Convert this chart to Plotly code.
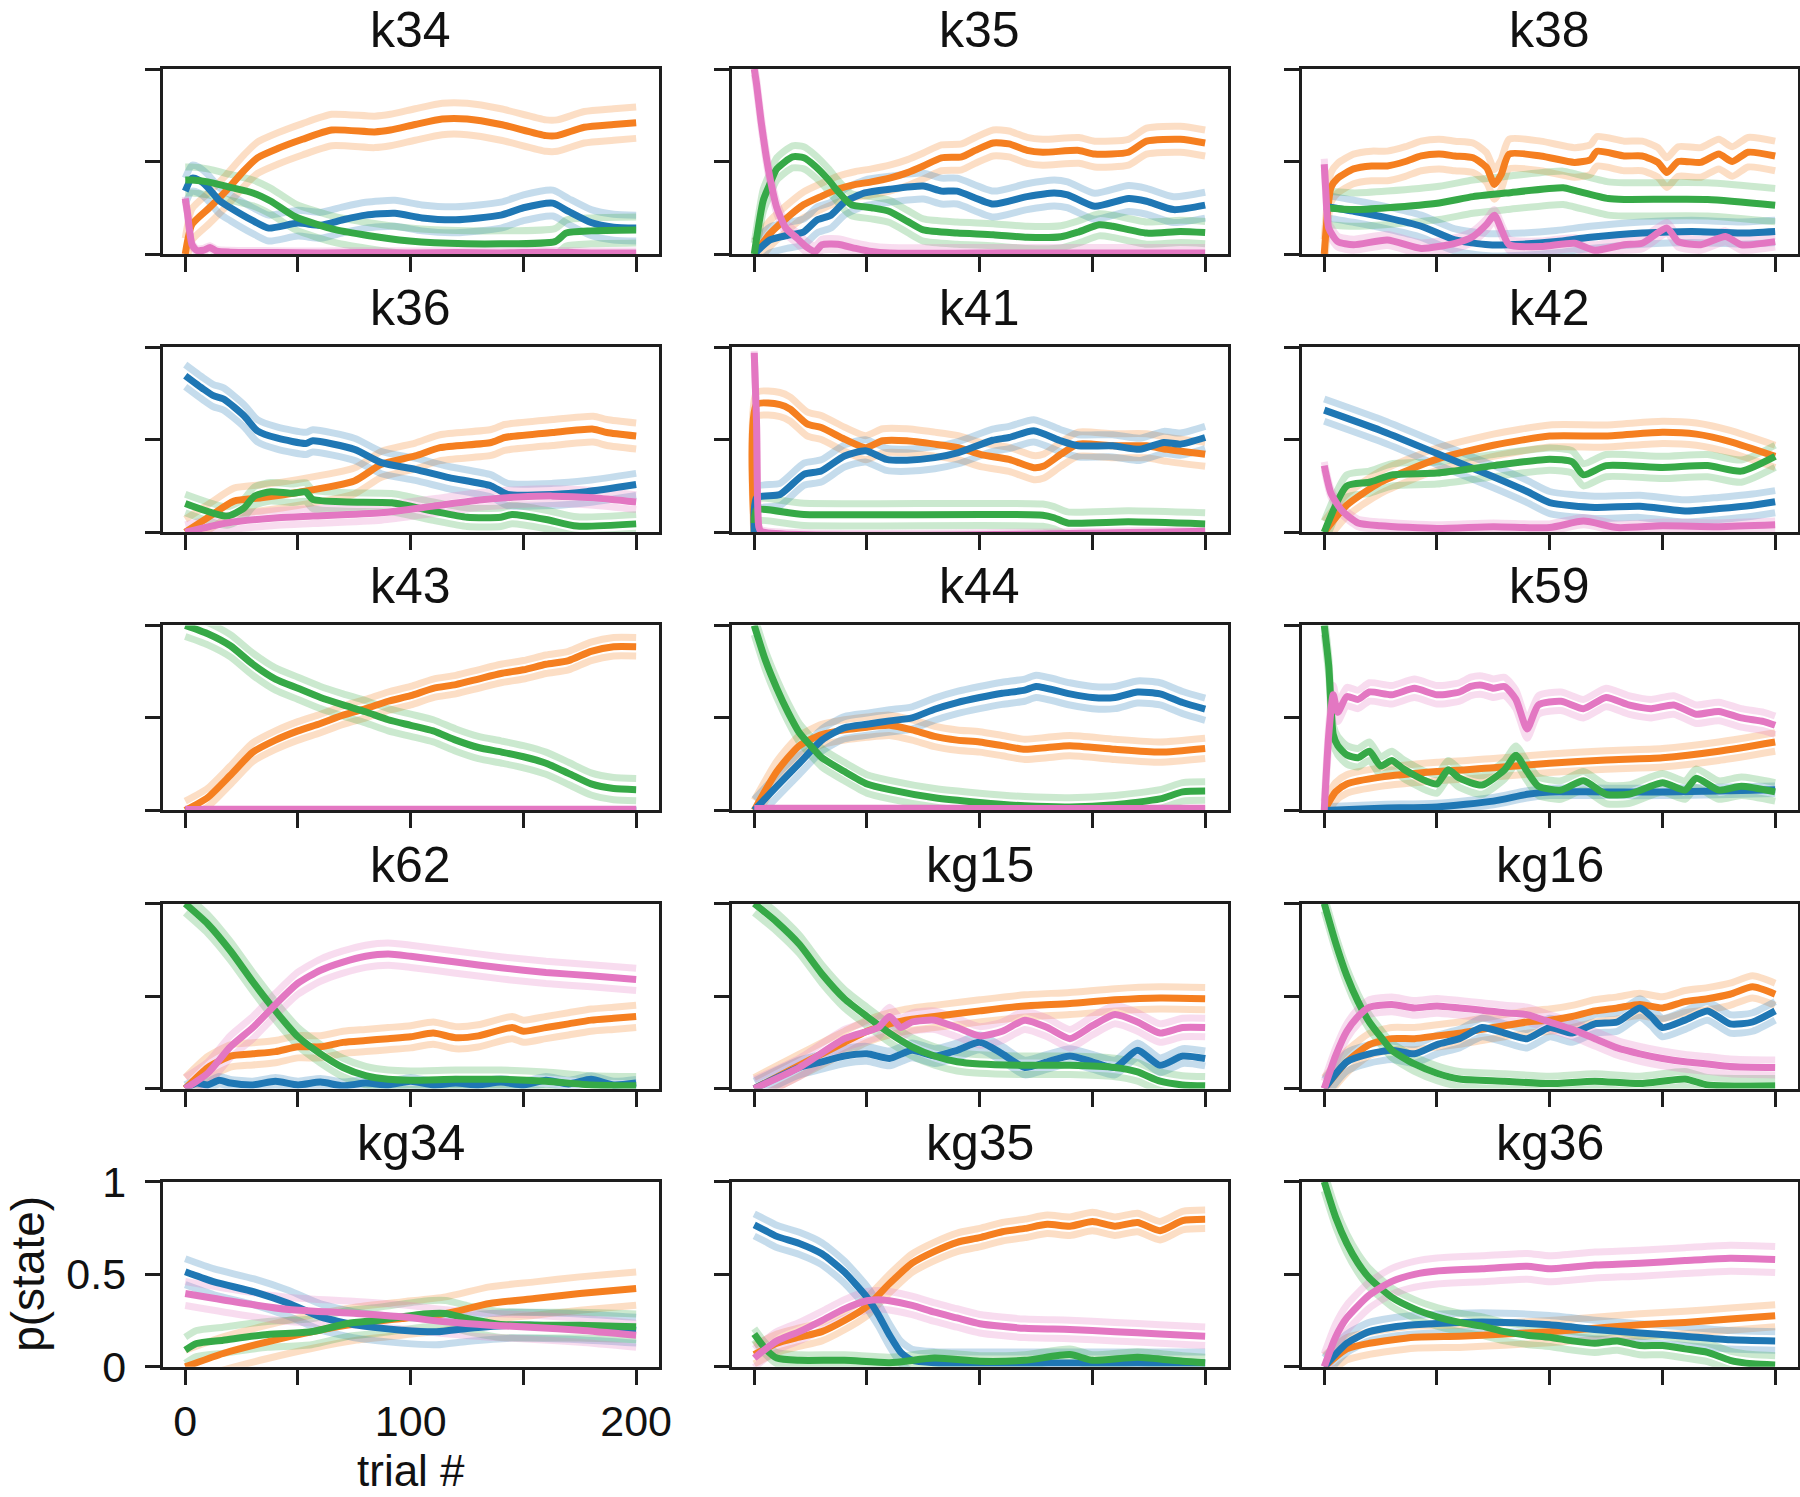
import plotly.graph_objects as go

# ---------------- data ----------------
PANEL_NAMES = ["k34", "k35", "k38", "k36", "k41", "k42", "k43", "k44", "k59",
               "k62", "kg15", "kg16", "kg34", "kg35", "kg36"]
STATES = ["orange", "blue", "green", "pink"]
X_TICKS = [0, 50, 100, 150, 200]
X_TICK_TEXT = ["0", "", "100", "", "200"]
Y_TICKS = [0, 0.5, 1]
Y_TICK_TEXT = ["0", "0.5", "1"]

# k34
K34_ORANGE_X = [0, 3, 10.7, 18, 26, 32, 41, 52, 65, 84, 91, 102, 114, 125, 140, 160, 165, 177, 190, 200]
K34_ORANGE_Y = [0.0, 0.16, 0.25, 0.34, 0.45, 0.52, 0.57, 0.62, 0.67, 0.66, 0.67, 0.70, 0.73, 0.73, 0.70, 0.64, 0.64, 0.685, 0.70, 0.71]
K34_BLUE_X = [0, 3, 6, 10, 15, 20, 30, 37, 50, 60, 70, 80, 93, 105, 120, 140, 150, 163, 170, 180, 190, 200]
K34_BLUE_Y = [0.34, 0.41, 0.40, 0.36, 0.29, 0.25, 0.18, 0.14, 0.167, 0.155, 0.185, 0.21, 0.22, 0.195, 0.185, 0.21, 0.25, 0.275, 0.23, 0.17, 0.145, 0.14]
K34_GREEN_X = [0, 3, 10, 20, 30, 38, 49, 67, 95, 117, 140, 164, 169, 180, 200]
K34_GREEN_Y = [0.40, 0.40, 0.39, 0.36, 0.33, 0.285, 0.20, 0.13, 0.076, 0.058, 0.055, 0.067, 0.113, 0.125, 0.13]
K34_PINK_X = [0, 1, 3, 5, 8, 11, 14, 20, 40, 60, 80, 100, 120, 140, 160, 180, 200]
K34_PINK_Y = [0.30, 0.22, 0.05, 0.02, 0.02, 0.035, 0.015, 0.01, 0.008, 0.006, 0.008, 0.006, 0.008, 0.006, 0.01, 0.006, 0.006]
K34_SEM = [0.085, 0.07, 0.07, 0.01]

# k35
K35_ORANGE_X = [0, 7, 14.5, 22, 30, 37, 45, 52, 60, 68, 75, 83, 92, 98, 106, 113, 121, 128, 144, 151, 166, 174, 189, 200]
K35_ORANGE_Y = [0, 0.11, 0.195, 0.267, 0.313, 0.35, 0.376, 0.39, 0.41, 0.44, 0.476, 0.52, 0.525, 0.56, 0.60, 0.595, 0.56, 0.55, 0.56, 0.54, 0.55, 0.61, 0.62, 0.60]
K35_BLUE_X = [0, 7, 14.5, 22, 28, 34, 40, 49, 60, 75, 83, 90, 106, 121, 133, 139, 151, 166, 174, 186, 200]
K35_BLUE_Y = [0, 0.076, 0.10, 0.12, 0.185, 0.21, 0.28, 0.33, 0.35, 0.367, 0.34, 0.34, 0.27, 0.31, 0.33, 0.32, 0.258, 0.30, 0.285, 0.24, 0.264]
K35_GREEN_X = [0, 4, 7, 10, 17, 22, 27, 33, 37, 43, 52, 60, 68, 75, 90, 106, 121, 136, 144, 153, 159, 174, 189, 200]
K35_GREEN_Y = [0.0, 0.29, 0.38, 0.46, 0.525, 0.52, 0.475, 0.40, 0.34, 0.267, 0.25, 0.23, 0.176, 0.13, 0.113, 0.104, 0.09, 0.093, 0.12, 0.158, 0.15, 0.113, 0.122, 0.116]
K35_PINK_X = [0, 1, 3, 5, 7, 10, 14, 19, 23, 27, 30, 37, 45, 52, 60, 100, 150, 200]
K35_PINK_Y = [1.0, 0.92, 0.72, 0.55, 0.41, 0.25, 0.14, 0.085, 0.04, 0.013, 0.05, 0.053, 0.03, 0.013, 0.005, 0.005, 0.005, 0.005]
K35_SEM = [0.07, 0.07, 0.06, 0.03]

# k38
K38_ORANGE_X = [0, 1.5, 3, 6, 13, 21, 28, 36, 43, 51, 58, 66, 72, 75.5, 78.5, 82, 96, 111, 118, 121, 133, 141, 148, 152, 157, 167, 175, 181, 188, 200]
K38_ORANGE_Y = [0, 0.23, 0.36, 0.41, 0.46, 0.476, 0.476, 0.50, 0.53, 0.54, 0.53, 0.52, 0.467, 0.376, 0.43, 0.54, 0.53, 0.495, 0.51, 0.555, 0.53, 0.53, 0.495, 0.44, 0.50, 0.495, 0.54, 0.50, 0.55, 0.53]
K38_BLUE_X = [0, 13.5, 28, 43, 58, 73, 88, 103, 118, 141, 163, 185, 200]
K38_BLUE_Y = [0.258, 0.23, 0.195, 0.15, 0.076, 0.05, 0.053, 0.067, 0.09, 0.113, 0.122, 0.113, 0.122]
K38_GREEN_X = [0, 13.5, 28, 51, 66, 81, 106, 111, 126, 133, 170, 200]
K38_GREEN_Y = [0.25, 0.24, 0.25, 0.276, 0.31, 0.33, 0.358, 0.344, 0.30, 0.295, 0.295, 0.264]
K38_PINK_X = [0, 0.7, 2, 6, 13, 28, 43, 58, 66, 72, 75.5, 79, 82, 96, 111, 120, 133, 141, 152, 157, 167, 178, 185, 200]
K38_PINK_Y = [0.485, 0.34, 0.14, 0.067, 0.05, 0.076, 0.03, 0.058, 0.095, 0.16, 0.21, 0.12, 0.05, 0.04, 0.058, 0.02, 0.05, 0.058, 0.14, 0.067, 0.05, 0.095, 0.05, 0.067]
K38_SEM = [0.08, 0.06, 0.09, 0.03]

# k36
K36_ORANGE_X = [0, 11, 21.6, 33.8, 49, 75, 87, 102, 113, 135.7, 141.7, 163, 181, 187, 200]
K36_ORANGE_Y = [0, 0.087, 0.168, 0.186, 0.213, 0.277, 0.367, 0.412, 0.457, 0.485, 0.512, 0.539, 0.557, 0.539, 0.52]
K36_BLUE_X = [0, 8, 12.5, 17, 26, 32, 41, 53.5, 56.6, 75, 87, 102, 117, 135.7, 143, 163, 178, 200]
K36_BLUE_Y = [0.846, 0.774, 0.738, 0.72, 0.63, 0.548, 0.508, 0.48, 0.494, 0.448, 0.376, 0.34, 0.295, 0.25, 0.204, 0.204, 0.219, 0.258]
K36_GREEN_X = [0, 18.5, 26, 30.7, 38, 47, 53.5, 56.6, 71.8, 91.6, 110, 125, 140, 145, 160, 173.7, 200]
K36_GREEN_Y = [0.155, 0.087, 0.13, 0.195, 0.219, 0.21, 0.217, 0.177, 0.163, 0.159, 0.114, 0.081, 0.081, 0.096, 0.069, 0.033, 0.045]
K36_PINK_X = [0, 18.5, 41, 56.6, 87, 110, 132.6, 148, 163, 181, 200]
K36_PINK_Y = [0, 0.05, 0.078, 0.087, 0.105, 0.141, 0.177, 0.19, 0.195, 0.186, 0.163]
K36_SEM = [0.07, 0.06, 0.05, 0.04]

# k41
K41_ORANGE_X = [0, 1, 11.4, 16, 23.6, 29.7, 40, 49.4, 57, 67.7, 80, 90.5, 101, 113, 124, 128.5, 136, 143.7, 159, 174, 183, 200]
K41_ORANGE_Y = [0, 0.69, 0.69, 0.665, 0.584, 0.566, 0.503, 0.457, 0.494, 0.494, 0.476, 0.457, 0.418, 0.394, 0.349, 0.358, 0.421, 0.476, 0.467, 0.467, 0.448, 0.421]
K41_BLUE_X = [0, 1, 11.4, 22, 29.7, 40, 49.4, 58.6, 67.7, 80, 90.5, 105.7, 113, 124, 136, 143.7, 159, 171, 181.7, 189, 200]
K41_BLUE_Y = [0, 0.186, 0.204, 0.313, 0.331, 0.412, 0.44, 0.394, 0.389, 0.403, 0.43, 0.497, 0.512, 0.548, 0.494, 0.467, 0.467, 0.448, 0.485, 0.476, 0.512]
K41_GREEN_X = [0, 1, 22, 128, 133, 139, 166, 200]
K41_GREEN_Y = [0.05, 0.12, 0.096, 0.092, 0.078, 0.05, 0.056, 0.045]
K41_PINK_X = [0, 1, 2, 3, 200]
K41_PINK_Y = [0.97, 0.6, 0.03, 0.005, 0.005]
K41_SEM = [0.065, 0.06, 0.06, 0.01]

# k42
K42_ORANGE_X = [0, 10, 25, 50, 75, 100, 125, 150, 165, 180, 200]
K42_ORANGE_Y = [0, 0.146, 0.27, 0.395, 0.47, 0.52, 0.52, 0.54, 0.53, 0.49, 0.41]
K42_BLUE_X = [0, 25, 50, 75, 90, 100, 120, 140, 160, 175, 190, 200]
K42_BLUE_Y = [0.66, 0.55, 0.425, 0.30, 0.22, 0.16, 0.134, 0.14, 0.115, 0.128, 0.146, 0.165]
K42_GREEN_X = [0, 10, 20, 30, 50, 75, 100, 110, 115, 125, 150, 170, 185, 200]
K42_GREEN_Y = [0, 0.25, 0.27, 0.31, 0.32, 0.36, 0.395, 0.38, 0.31, 0.36, 0.35, 0.36, 0.33, 0.41]
K42_PINK_X = [0, 3, 8, 15, 25, 50, 75, 100, 115, 130, 150, 175, 200]
K42_PINK_Y = [0.36, 0.21, 0.115, 0.05, 0.035, 0.02, 0.03, 0.025, 0.06, 0.025, 0.035, 0.03, 0.04]
K42_SEM = [0.06, 0.06, 0.06, 0.02]

# k43
K43_ORANGE_X = [0, 10, 20, 30, 40, 50, 60, 70, 80, 90, 100, 110, 120, 130, 140, 150, 160, 170, 180, 190, 200]
K43_ORANGE_Y = [0, 0.07, 0.19, 0.315, 0.38, 0.43, 0.47, 0.515, 0.55, 0.59, 0.62, 0.66, 0.68, 0.71, 0.74, 0.76, 0.79, 0.81, 0.86, 0.885, 0.885]
K43_BLUE_X = [0, 200]
K43_BLUE_Y = [0.0, 0.0]
K43_GREEN_X = [0, 10, 20, 30, 40, 50, 60, 70, 80, 90, 100, 110, 120, 130, 140, 150, 160, 170, 180, 190, 200]
K43_GREEN_Y = [1.0, 0.955, 0.89, 0.79, 0.71, 0.66, 0.61, 0.57, 0.533, 0.49, 0.46, 0.43, 0.38, 0.34, 0.316, 0.29, 0.255, 0.20, 0.143, 0.118, 0.112]
K43_PINK_X = [0, 200]
K43_PINK_Y = [0.005, 0.005]
K43_SEM = [0.05, 0.005, 0.06, 0.005]

# k44
K44_ORANGE_X = [0, 10, 20, 30, 40, 50, 60, 70, 80, 90, 100, 110, 120, 130, 140, 160, 180, 200]
K44_ORANGE_Y = [0, 0.21, 0.35, 0.41, 0.435, 0.45, 0.46, 0.435, 0.40, 0.38, 0.37, 0.35, 0.33, 0.34, 0.35, 0.33, 0.315, 0.335]
K44_BLUE_X = [0, 10, 20, 30, 40, 50, 60, 70, 80, 90, 100, 110, 120, 125, 140, 150, 160, 170, 180, 190, 200]
K44_BLUE_Y = [0, 0.13, 0.255, 0.38, 0.447, 0.466, 0.484, 0.5, 0.547, 0.583, 0.61, 0.633, 0.65, 0.67, 0.63, 0.61, 0.61, 0.64, 0.63, 0.583, 0.547]
K44_GREEN_X = [0, 5, 10, 15, 20, 25, 30, 40, 50, 60, 80, 100, 120, 140, 160, 180, 190, 200]
K44_GREEN_Y = [1.0, 0.81, 0.66, 0.53, 0.42, 0.35, 0.285, 0.21, 0.143, 0.112, 0.068, 0.043, 0.025, 0.019, 0.031, 0.062, 0.1, 0.105]
K44_PINK_X = [0, 200]
K44_PINK_Y = [0.01, 0.01]
K44_SEM = [0.055, 0.06, 0.05, 0.005]

# k59
K59_ORANGE_X = [0, 5, 10, 25, 50, 75, 100, 125, 150, 175, 200]
K59_ORANGE_Y = [0, 0.10, 0.143, 0.18, 0.21, 0.23, 0.255, 0.273, 0.285, 0.32, 0.37]
K59_BLUE_X = [0, 25, 50, 75, 90, 100, 125, 150, 175, 200]
K59_BLUE_Y = [0, 0.012, 0.019, 0.05, 0.087, 0.1, 0.1, 0.1, 0.105, 0.112]
K59_GREEN_X = [0, 2, 4, 6, 10, 15, 20, 25, 30, 35, 40, 45, 50, 55, 60, 70, 80, 85, 90, 95, 105, 115, 125, 135, 150, 160, 165, 175, 185, 200]
K59_GREEN_Y = [1.0, 0.78, 0.41, 0.35, 0.30, 0.285, 0.32, 0.24, 0.27, 0.225, 0.19, 0.16, 0.143, 0.22, 0.174, 0.137, 0.22, 0.298, 0.21, 0.13, 0.11, 0.16, 0.087, 0.087, 0.15, 0.11, 0.174, 0.11, 0.13, 0.10]
K59_PINK_X = [0, 2, 4, 6, 10, 15, 20, 30, 40, 50, 60, 65, 70, 75, 80, 85, 90, 95, 105, 115, 125, 135, 145, 155, 165, 175, 185, 195, 200]
K59_PINK_Y = [0, 0.41, 0.625, 0.53, 0.615, 0.60, 0.64, 0.625, 0.66, 0.625, 0.64, 0.67, 0.677, 0.66, 0.67, 0.60, 0.44, 0.57, 0.59, 0.55, 0.61, 0.57, 0.55, 0.57, 0.52, 0.535, 0.50, 0.48, 0.46]
K59_SEM = [0.05, 0.02, 0.05, 0.05]

# k62
K62_ORANGE_X = [0, 10, 20, 30, 40, 50, 60, 70, 80, 90, 100, 110, 120, 130, 145, 150, 160, 170, 180, 190, 200]
K62_ORANGE_Y = [0, 0.114, 0.176, 0.188, 0.20, 0.226, 0.226, 0.25, 0.26, 0.27, 0.28, 0.30, 0.275, 0.285, 0.33, 0.31, 0.33, 0.35, 0.37, 0.38, 0.39]
K62_BLUE_X = [0, 5, 10, 15, 20, 30, 40, 50, 60, 70, 80, 90, 100, 110, 120, 130, 140, 150, 160, 170, 180, 190, 200]
K62_BLUE_Y = [0, 0.03, 0.02, 0.045, 0.03, 0.02, 0.04, 0.02, 0.035, 0.015, 0.03, 0.02, 0.04, 0.02, 0.03, 0.02, 0.035, 0.02, 0.045, 0.025, 0.05, 0.02, 0.03]
K62_GREEN_X = [0, 10, 20, 30, 40, 50, 60, 70, 80, 90, 100, 120, 140, 160, 180, 200]
K62_GREEN_Y = [1.0, 0.89, 0.745, 0.577, 0.42, 0.28, 0.188, 0.114, 0.07, 0.05, 0.045, 0.05, 0.05, 0.04, 0.02, 0.015]
K62_PINK_X = [0, 10, 20, 30, 40, 50, 60, 70, 80, 90, 100, 120, 140, 160, 180, 200]
K62_PINK_Y = [0, 0.083, 0.226, 0.33, 0.455, 0.57, 0.64, 0.684, 0.715, 0.727, 0.715, 0.684, 0.653, 0.628, 0.61, 0.59]
K62_SEM = [0.06, 0.02, 0.05, 0.06]

# kg15
KG15_ORANGE_X = [0, 20, 30, 40, 50, 60, 70, 80, 100, 120, 140, 160, 180, 200]
KG15_ORANGE_Y = [0, 0.126, 0.188, 0.25, 0.31, 0.35, 0.375, 0.39, 0.42, 0.447, 0.46, 0.48, 0.49, 0.486]
KG15_BLUE_X = [0, 20, 30, 40, 50, 60, 70, 80, 90, 100, 110, 120, 130, 140, 150, 160, 170, 180, 190, 200]
KG15_BLUE_Y = [0, 0.114, 0.145, 0.176, 0.188, 0.163, 0.207, 0.176, 0.207, 0.25, 0.188, 0.114, 0.145, 0.176, 0.145, 0.114, 0.207, 0.126, 0.176, 0.163]
KG15_GREEN_X = [0, 10, 20, 30, 40, 50, 60, 70, 80, 90, 100, 120, 140, 160, 170, 180, 190, 200]
KG15_GREEN_Y = [1.0, 0.9, 0.78, 0.62, 0.486, 0.39, 0.30, 0.226, 0.176, 0.145, 0.133, 0.126, 0.126, 0.114, 0.09, 0.04, 0.02, 0.015]
KG15_PINK_X = [0, 20, 40, 55, 60, 65, 70, 80, 90, 100, 110, 120, 130, 140, 150, 160, 170, 180, 190, 200]
KG15_PINK_Y = [0, 0.114, 0.27, 0.33, 0.39, 0.33, 0.36, 0.37, 0.33, 0.285, 0.31, 0.37, 0.33, 0.27, 0.34, 0.40, 0.36, 0.30, 0.33, 0.33]
KG15_SEM = [0.06, 0.04, 0.05, 0.05]

# kg16
KG16_ORANGE_X = [0, 10, 20, 30, 40, 50, 60, 70, 80, 90, 100, 110, 120, 130, 140, 150, 160, 170, 180, 190, 200]
KG16_ORANGE_Y = [0, 0.145, 0.238, 0.27, 0.27, 0.285, 0.30, 0.32, 0.34, 0.36, 0.37, 0.39, 0.42, 0.436, 0.455, 0.436, 0.47, 0.486, 0.51, 0.55, 0.51]
KG16_BLUE_X = [0, 10, 20, 30, 40, 50, 60, 70, 80, 90, 100, 110, 120, 130, 140, 145, 150, 160, 170, 180, 190, 200]
KG16_BLUE_Y = [0, 0.145, 0.188, 0.207, 0.188, 0.238, 0.27, 0.33, 0.30, 0.27, 0.33, 0.30, 0.35, 0.36, 0.436, 0.39, 0.33, 0.37, 0.42, 0.35, 0.36, 0.42]
KG16_GREEN_X = [0, 5, 10, 15, 20, 25, 30, 40, 50, 60, 80, 100, 120, 140, 160, 170, 200]
KG16_GREEN_Y = [1.0, 0.79, 0.61, 0.47, 0.36, 0.28, 0.207, 0.133, 0.083, 0.052, 0.04, 0.027, 0.04, 0.027, 0.052, 0.02, 0.015]
KG16_PINK_X = [0, 5, 10, 15, 20, 30, 40, 50, 60, 70, 80, 90, 100, 110, 120, 130, 140, 150, 160, 170, 180, 200]
KG16_PINK_Y = [0, 0.176, 0.31, 0.39, 0.44, 0.455, 0.436, 0.447, 0.436, 0.424, 0.41, 0.40, 0.36, 0.32, 0.27, 0.22, 0.188, 0.163, 0.145, 0.133, 0.12, 0.114]
KG16_SEM = [0.06, 0.05, 0.04, 0.04]

# kg34
KG34_ORANGE_X = [0, 16.8, 36.5, 56, 76, 96, 115.5, 135, 155, 175, 200]
KG34_ORANGE_Y = [0, 0.072, 0.135, 0.189, 0.234, 0.261, 0.288, 0.342, 0.369, 0.396, 0.423]
KG34_BLUE_X = [0, 12.8, 30.6, 46, 60, 76, 96, 111.5, 125, 145, 175, 200]
KG34_BLUE_Y = [0.514, 0.459, 0.405, 0.342, 0.27, 0.225, 0.198, 0.189, 0.207, 0.225, 0.216, 0.198]
KG34_GREEN_X = [0, 5, 16.8, 36.5, 56, 72, 86, 105.6, 115.5, 125, 139, 155, 175, 200]
KG34_GREEN_Y = [0.09, 0.126, 0.144, 0.175, 0.189, 0.234, 0.252, 0.285, 0.288, 0.261, 0.23, 0.225, 0.225, 0.216]
KG34_PINK_X = [0, 26.6, 46, 76, 96, 115.5, 135, 155, 175, 200]
KG34_PINK_Y = [0.396, 0.342, 0.31, 0.288, 0.27, 0.243, 0.225, 0.213, 0.198, 0.171]
KG34_SEM = [0.09, 0.07, 0.07, 0.065]

# kg35
KG35_ORANGE_X = [0, 10, 20, 30, 40, 50, 60, 70, 80, 90, 100, 110, 120, 130, 140, 150, 160, 170, 180, 190, 200]
KG35_ORANGE_Y = [0.066, 0.127, 0.16, 0.19, 0.25, 0.326, 0.45, 0.56, 0.624, 0.673, 0.698, 0.73, 0.748, 0.77, 0.76, 0.785, 0.76, 0.78, 0.736, 0.79, 0.797]
KG35_BLUE_X = [0, 5, 10, 20, 30, 40, 50, 55, 60, 65, 70, 80, 100, 150, 200]
KG35_BLUE_Y = [0.767, 0.736, 0.705, 0.667, 0.611, 0.512, 0.375, 0.282, 0.171, 0.078, 0.035, 0.022, 0.02, 0.02, 0.02]
KG35_GREEN_X = [0, 5, 10, 20, 40, 60, 80, 100, 120, 140, 150, 170, 190, 200]
KG35_GREEN_Y = [0.177, 0.097, 0.047, 0.035, 0.035, 0.022, 0.047, 0.03, 0.035, 0.066, 0.035, 0.052, 0.03, 0.022]
KG35_PINK_X = [0, 10, 20, 30, 40, 50, 55, 60, 70, 80, 90, 100, 120, 140, 160, 180, 200]
KG35_PINK_Y = [0.047, 0.14, 0.19, 0.25, 0.313, 0.357, 0.363, 0.357, 0.332, 0.295, 0.264, 0.233, 0.208, 0.202, 0.19, 0.177, 0.165]
KG35_SEM = [0.05, 0.06, 0.03, 0.05]

# kg36
KG36_ORANGE_X = [0, 10, 20, 40, 60, 80, 100, 120, 140, 160, 180, 200]
KG36_ORANGE_Y = [0, 0.097, 0.127, 0.16, 0.165, 0.177, 0.19, 0.208, 0.227, 0.24, 0.258, 0.276]
KG36_BLUE_X = [0, 10, 20, 30, 40, 60, 80, 100, 120, 140, 160, 180, 200]
KG36_BLUE_Y = [0, 0.127, 0.19, 0.214, 0.227, 0.24, 0.24, 0.227, 0.202, 0.183, 0.165, 0.146, 0.14]
KG36_GREEN_X = [0, 5, 10, 15, 20, 30, 40, 50, 60, 70, 80, 90, 100, 110, 120, 130, 140, 150, 160, 170, 180, 190, 200]
KG36_GREEN_Y = [1.0, 0.81, 0.667, 0.56, 0.48, 0.375, 0.313, 0.27, 0.24, 0.22, 0.19, 0.171, 0.16, 0.14, 0.127, 0.14, 0.115, 0.115, 0.097, 0.078, 0.035, 0.016, 0.01]
KG36_PINK_X = [0, 5, 10, 20, 30, 40, 50, 70, 90, 100, 120, 140, 160, 180, 200]
KG36_PINK_Y = [0, 0.16, 0.264, 0.388, 0.462, 0.50, 0.518, 0.53, 0.543, 0.53, 0.55, 0.56, 0.574, 0.587, 0.58]
KG36_SEM = [0.06, 0.05, 0.05, 0.07]

# ---------------- styling ----------------
MAIN_COLORS = {"orange": "#f57f20", "blue": "#1f77b4", "green": "#36a947", "pink": "#e377c2"}
BAND_ALPHA = 0.26
LINE_W = 7
AXIS_COLOR = "#1e1e1e"
FONT = "Liberation Sans, Arial, Helvetica, sans-serif"

W, H = 1800, 1497
OFF = 0  # page body margin is removed below, so figure pixels == screen pixels
COL_LEFT = [162.7, 731.7, 1301.7]
PANEL_W = 496
ROW_TOP0 = 69
ROW_PITCH = 278.2
PANEL_H = 185


def fx(sx):
    return (sx - OFF) / W


def fy(sy):
    return 1 - (sy - OFF) / H


def rgba(hex_color, a):
    h = hex_color.lstrip("#")
    r, g, b = int(h[0:2], 16), int(h[2:4], 16), int(h[4:6], 16)
    return f"rgba({r},{g},{b},{a})"


fig = go.Figure()
layout = {}
annotations = []
g = globals()

for i, name in enumerate(PANEL_NAMES):
    r, c = divmod(i, 3)
    suffix = "" if i == 0 else str(i + 1)
    xa, ya = "x" + suffix, "y" + suffix
    left = COL_LEFT[c]
    top = ROW_TOP0 + r * ROW_PITCH
    show_labels = (name == "kg34")

    common = dict(showline=True, linecolor=AXIS_COLOR, linewidth=3, mirror=True,
                  ticks="outside", ticklen=15, tickwidth=3, tickcolor=AXIS_COLOR,
                  showgrid=False, zeroline=False, showticklabels=show_labels,
                  automargin=False,
                  tickfont=dict(family=FONT, size=43, color="#111111"), fixedrange=True)
    layout["xaxis" + suffix] = dict(domain=[fx(left), fx(left + PANEL_W)], anchor=ya,
                                    range=[-10, 210], tickmode="array", tickvals=X_TICKS,
                                    ticktext=X_TICK_TEXT, **common)
    layout["yaxis" + suffix] = dict(domain=[fy(top + PANEL_H), fy(top)], anchor=xa,
                                    range=[0, 1], tickmode="array", tickvals=Y_TICKS,
                                    ticktext=Y_TICK_TEXT, ticklabelstandoff=10, **common)

    sem = g[name.upper() + "_SEM"]
    # uncertainty lines first
    for k, st in enumerate(STATES):
        xs = g[f"{name.upper()}_{st.upper()}_X"]
        ys = g[f"{name.upper()}_{st.upper()}_Y"]
        for sign in (1, -1):
            fig.add_trace(go.Scatter(x=xs, y=[v + sign * sem[k] for v in ys], mode="lines",
                                     line=dict(color=rgba(MAIN_COLORS[st], BAND_ALPHA), width=LINE_W,
                                               shape="spline", smoothing=0.6),
                                     xaxis=xa, yaxis=ya, showlegend=False, hoverinfo="skip"))
    for st in STATES:
        xs = g[f"{name.upper()}_{st.upper()}_X"]
        ys = g[f"{name.upper()}_{st.upper()}_Y"]
        fig.add_trace(go.Scatter(x=xs, y=ys, mode="lines",
                                 line=dict(color=MAIN_COLORS[st], width=LINE_W,
                                           shape="spline", smoothing=0.6),
                                 xaxis=xa, yaxis=ya, showlegend=False, hoverinfo="skip"))

    annotations.append(dict(text=name, xref="paper", yref="paper",
                            x=fx(left + PANEL_W / 2), y=fy(top - 39),
                            xanchor="center", yanchor="middle", showarrow=False,
                            font=dict(family=FONT, size=50, color="#111111")))

annotations.append(dict(text="p(state)", xref="paper", yref="paper", x=fx(28.5),
                        y=fy(ROW_TOP0 + 4 * ROW_PITCH + PANEL_H / 2),
                        xanchor="center", yanchor="middle", textangle=-90, showarrow=False,
                        font=dict(family=FONT, size=46, color="#111111")))
annotations.append(dict(text="trial #", xref="paper", yref="paper",
                        x=fx(COL_LEFT[0] + PANEL_W / 2), y=fy(1470),
                        xanchor="center", yanchor="middle", showarrow=False,
                        font=dict(family=FONT, size=44, color="#111111")))

fig.update_layout(width=W, height=H,
                  margin=dict(l=0, r=0, t=0, b=0, pad=0, autoexpand=False),
                  paper_bgcolor="white", plot_bgcolor="white",
                  annotations=annotations, **layout)
fig.write_html("out.html", config={"displayModeBar": False},
               post_script="document.body.style.margin='0px';")
